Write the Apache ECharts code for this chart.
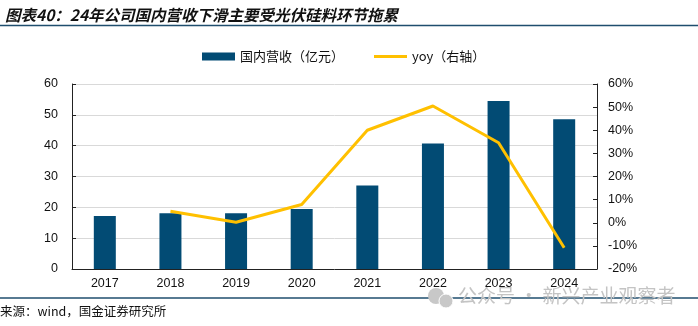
<!DOCTYPE html>
<html>
<head>
<meta charset="utf-8">
<script src="https://cdn.jsdelivr.net/npm/echarts@6/dist/echarts.min.js"></script>
<style>html,body{margin:0;padding:0;background:#fff}#c{width:698px;height:326px}</style>
</head>
<body>
<div id="c"></div>
<script>
var categories = ['2017','2018','2019','2020','2021','2022','2023','2024'];
var revenue = [17.2, 18.1, 18.1, 19.5, 27.1, 40.7, 54.5, 48.6];
var yoy = [null, 5.0, 0.2, 7.9, 40.0, 50.5, 34.6, -10.8];
var leftTicks = [0, 60, 10];
var rightTicks = [-20, 60, 10];

var chart = echarts.init(document.getElementById('c'), null, {renderer: 'canvas'});
var cjk = '"Noto Sans CJK SC", sans-serif';
var latin = 'Arial, "Liberation Sans", sans-serif';
chart.setOption({
  animation: false,
  title: {
    text: '图表40：24年公司国内营收下滑主要受光伏硅料环节拖累',
    left: 0, top: 2,
    textStyle: {fontFamily: cjk, fontSize: 15.5, fontStyle: 'italic', fontWeight: 'bold', color: '#111'}
  },
  legend: {
    left: 197, top: 45, padding: 5,
    itemWidth: 33, itemHeight: 8, itemGap: 30,
    textStyle: {fontFamily: cjk, fontSize: 13, color: '#111'},
    data: [{name: '国内营收（亿元）', icon: 'rect'}, {name: 'yoy（右轴）', icon: 'path://M0,0H33V3H0Z'}]
  },
  grid: {left: 72, right: 101, top: 84, bottom: 57},
  xAxis: {
    type: 'category', data: categories,
    axisLine: {lineStyle: {color: '#222', width: 1}},
    axisTick: {inside: true, length: 4, lineStyle: {color: '#222'}},
    axisLabel: {fontFamily: latin, fontSize: 12.5, color: '#111', margin: 8}
  },
  yAxis: [{
    type: 'value', min: leftTicks[0], max: leftTicks[1], interval: leftTicks[2],
    axisLine: {show: true, lineStyle: {color: '#222'}},
    axisTick: {show: true, inside: true, length: 4, lineStyle: {color: '#222'}},
    splitLine: {lineStyle: {color: '#d9d9d9', width: 1}},
    axisLabel: {fontFamily: latin, fontSize: 12.5, color: '#111', margin: 14}
  }, {
    type: 'value', min: rightTicks[0], max: rightTicks[1], interval: rightTicks[2],
    position: 'right',
    axisLine: {show: true, lineStyle: {color: '#222'}},
    axisTick: {show: true, inside: true, length: 4, lineStyle: {color: '#222'}},
    splitLine: {show: false},
    axisLabel: {fontFamily: latin, fontSize: 12.5, color: '#111', margin: 11, formatter: '{value}%'}
  }],
  series: [{
    name: '国内营收（亿元）', type: 'bar', data: revenue, barWidth: 22,
    itemStyle: {color: '#024B74'}
  }, {
    name: 'yoy（右轴）', type: 'line', yAxisIndex: 1, data: yoy,
    symbol: 'none', lineStyle: {color: '#FFC000', width: 3}, itemStyle: {color: '#FFC000'}
  }],
  graphic: [
    {type: 'line', shape: {x1: 0, y1: 25.5, x2: 698, y2: 25.5}, style: {stroke: '#1F4E6E', lineWidth: 1.5}},
    {type: 'line', shape: {x1: 0, y1: 298, x2: 698, y2: 298}, style: {stroke: '#1F4E6E', lineWidth: 1.5}},
    {type: 'text', left: 0, top: 305, style: {text: '来源：wind，国金证券研究所', font: '12.5px "Noto Sans CJK SC"', fill: '#111'}},
    {type: 'circle', shape: {cx: 436, cy: 296, r: 8}, style: {fill: '#c8c8c8'}},
    {type: 'circle', shape: {cx: 446, cy: 301, r: 7}, style: {fill: '#c8c8c8', stroke: '#fff', lineWidth: 1}},
    {type: 'text', left: 458, top: 286, style: {text: '公众号 · 新兴产业观察者', font: '19px "Noto Sans CJK SC"', fill: '#c4c4c4'}}
  ]
});
</script>
</body>
</html>
